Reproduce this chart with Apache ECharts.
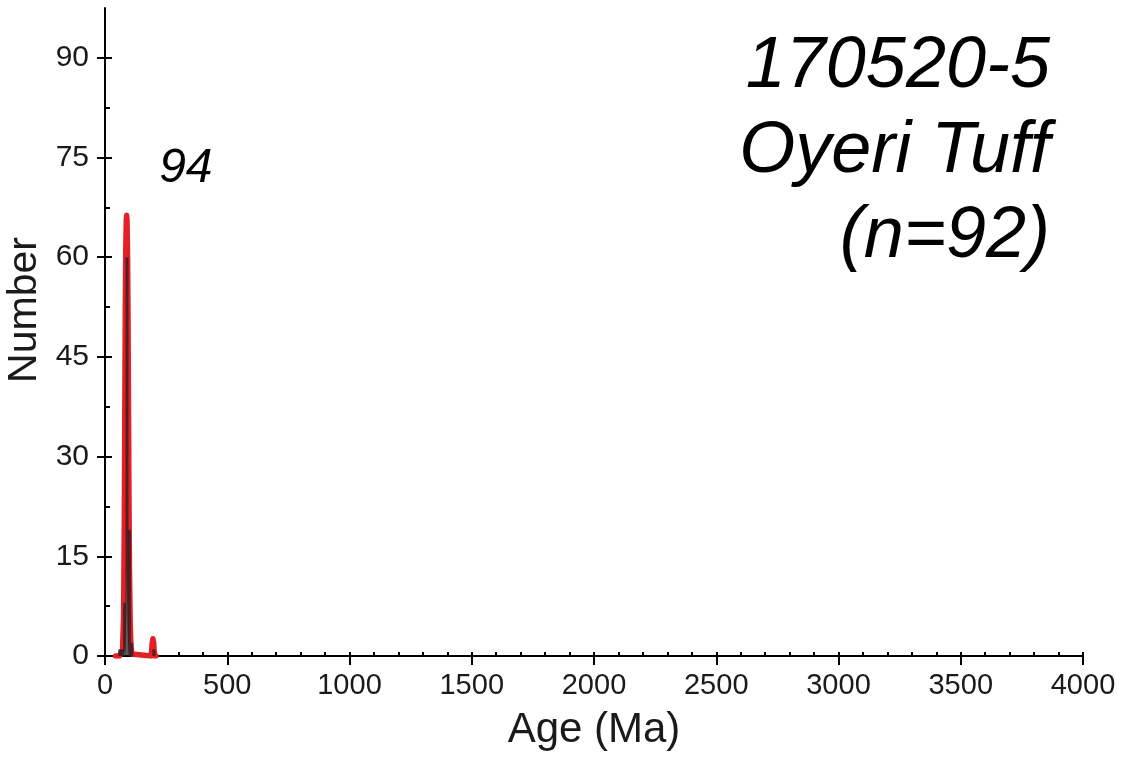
<!DOCTYPE html>
<html>
<head>
<meta charset="utf-8">
<script src="https://cdn.jsdelivr.net/npm/echarts@6/dist/echarts.min.js"></script>
<style>
html,body{margin:0;padding:0;background:#fff;}
#chart{width:1125px;height:757px;}
</style>
</head>
<body>
<div id="chart"></div>
<script>
// Histogram bins (age centre, Ma) and counts
const binAges   = [60, 70, 80, 90, 100, 110, 200];
const binCounts = [1, 1, 8, 60, 19, 2, 1];
// Probability-density curve (scaled)
const pdpAges = [43, 60, 66, 72, 76, 79, 81, 83, 85, 87, 88.5, 90, 92, 94, 96, 98, 100, 103, 106, 110, 114, 188, 191, 193, 196, 199, 201, 204, 208];
const pdpVals = [0, 0, 0.3, 1, 6, 20, 36, 52, 61, 65.5, 66.3, 65.5, 61, 52, 38, 24, 13, 5, 1.5, 0.3, 0, 0, 0.8, 2, 2.6, 2, 0.8, 0, 0];
// Axis ticks
const yMajor = [0, 15, 30, 45, 60, 75, 90];
const yMinor = [7.5, 22.5, 37.5, 52.5, 67.5, 82.5];
const xMin = 0, xMax = 4000, xMajorStep = 500, xMinorStep = 100;
const yMax = 97.5;
const peakLabel = '94';
const titleLines = ['170520-5', 'Oyeri Tuff', '(n=92)'];

const FONT = '"Liberation Sans", Arial, sans-serif';
const chart = echarts.init(document.getElementById('chart'));

const barData = binAges.map((a, i) => [a, binCounts[i]]);
const lineData = pdpAges.map((a, i) => [a, pdpVals[i]]);
const peakIdx = pdpVals.indexOf(Math.max.apply(null, pdpVals));

const baseX = {type: 'value', min: xMin, max: xMax, gridIndex: 0, position: 'bottom', splitLine: {show: false}};
const baseY = {type: 'value', min: 0, max: yMax, gridIndex: 0, position: 'left', splitLine: {show: false}};

chart.setOption({
  animation: false,
  backgroundColor: '#fff',
  grid: {left: 105, right: 42, top: 8, bottom: 101, containLabel: false, outerBoundsMode: 'none'},
  xAxis: [
    Object.assign({}, baseX, {
      interval: xMajorStep,
      axisLine: {show: true, lineStyle: {color: '#000', width: 2}},
      axisTick: {show: true, inside: false, length: 9, lineStyle: {color: '#000', width: 2}},
      axisLabel: {show: true, margin: 15, fontSize: 29, color: '#1a1a1a', fontFamily: FONT,
        formatter: v => String(v)},
      name: 'Age (Ma)', nameLocation: 'middle', nameGap: 53,
      nameTextStyle: {fontSize: 42, color: '#1a1a1a', fontFamily: FONT}
    }),
    Object.assign({}, baseX, {
      interval: xMinorStep,
      axisLine: {show: false},
      axisTick: {show: true, inside: true, length: 4, lineStyle: {color: '#000', width: 2}},
      axisLabel: {show: false}
    })
  ],
  yAxis: [
    Object.assign({}, baseY, {
      axisLine: {show: true, lineStyle: {color: '#000', width: 2}},
      axisTick: {show: true, inside: false, length: 8, customValues: yMajor, lineStyle: {color: '#000', width: 2}},
      axisLabel: {show: true, margin: 16, fontSize: 30, color: '#1a1a1a', fontFamily: FONT, customValues: yMajor},
      name: 'Number', nameLocation: 'middle', nameGap: 58,
      nameTextStyle: {fontSize: 41, color: '#1a1a1a', fontFamily: FONT, padding: [0, 0, 0, 44]}
    }),
    Object.assign({}, baseY, {
      axisLine: {show: false},
      axisTick: {show: true, inside: true, length: 7, customValues: yMajor, lineStyle: {color: '#000', width: 2}},
      axisLabel: {show: false}
    }),
    Object.assign({}, baseY, {
      axisLine: {show: false},
      axisTick: {show: true, inside: true, length: 5, customValues: yMinor, lineStyle: {color: '#000', width: 2}},
      axisLabel: {show: false}
    })
  ],
  series: [
    {
      type: 'line', data: lineData, xAxisIndex: 0, yAxisIndex: 0,
      showSymbol: false, symbol: 'none', smooth: false, z: 2,
      lineStyle: {color: '#e41f26', width: 5.5, cap: 'round', join: 'round'},
      markPoint: {
        symbol: 'circle', symbolSize: 1, itemStyle: {color: 'rgba(0,0,0,0)'},
        data: [{coord: [pdpAges[peakIdx], pdpVals[peakIdx]], value: peakLabel}],
        label: {show: true, formatter: peakLabel, position: 'right', distance: 0, offset: [32, -47],
          fontSize: 48, fontStyle: 'italic', color: '#000', fontFamily: FONT}
      }
    },
    {
      type: 'bar', data: barData, xAxisIndex: 0, yAxisIndex: 0,
      barWidth: 3, z: 3,
      itemStyle: {color: 'rgba(30,30,30,0.72)'}
    }
  ],
  graphic: titleLines.map((t, i) => ({
    type: 'text', right: 75, top: 31 + i * 85,
    style: {
      text: t, fontSize: 72, fontStyle: 'italic',
      fontFamily: FONT, fill: '#000'
    }
  }))
});
</script>
</body>
</html>
